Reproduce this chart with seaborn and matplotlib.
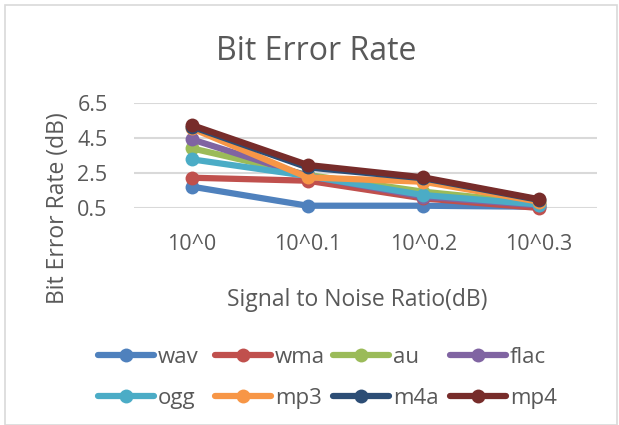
import matplotlib
matplotlib.use("Agg")
import matplotlib.pyplot as plt
import seaborn as sns
import pandas as pd
from matplotlib.patches import Rectangle
from matplotlib.lines import Line2D

categories = ["10^0", "10^0.1", "10^0.2", "10^0.3"]
wav = [1.72, 0.63, 0.63, 0.57]
wma = [2.23, 2.06, 1.05, 0.50]
au = [3.91, 2.39, 1.43, 0.77]
flac = [4.42, 2.33, 1.15, 0.65]
ogg = [3.28, 2.33, 1.24, 0.70]
mp3 = [5.05, 2.25, 2.00, 0.86]
m4a = [5.15, 2.82, 2.20, 0.96]
mp4 = [5.24, 2.96, 2.25, 1.00]
series_names = ["wav", "wma", "au", "flac", "ogg", "mp3", "m4a", "mp4"]
series_values = [wav, wma, au, flac, ogg, mp3, m4a, mp4]
colors = ["#4F81BD", "#C0504D", "#9BBB59", "#8064A2", "#4BACC6", "#F79646", "#2C4D75", "#772C2A"]
yticks = [0.5, 2.5, 4.5, 6.5]

rows = []
for name, vals in zip(series_names, series_values):
    for i, (c, v) in enumerate(zip(categories, vals)):
        rows.append({"snr": c, "pos": i, "ber": v, "fmt": name})
df = pd.DataFrame(rows)

sns.set_theme(style="white")
plt.rcParams["font.family"] = ["Open Sans", "DejaVu Sans"]
text_color = "#595959"

fig = plt.figure(figsize=(6.19, 4.25), dpi=100)
ax = fig.add_axes([134 / 619, 1 - 208 / 425, (597 - 134) / 619, (208 - 103) / 425])

palette = dict(zip(series_names, colors))
sns.lineplot(data=df, x="pos", y="ber", hue="fmt", hue_order=series_names,
             palette=palette, marker="o", markersize=10, linewidth=4.5,
             markeredgewidth=0, ax=ax, legend=False, sort=False)

ax.set_xlim(-0.5, 3.5)
ax.set_ylim(0.5, 6.5)
ax.set_xticks(range(len(categories)))
ax.set_xticklabels(categories)
ax.set_yticks(yticks)
ax.set_yticklabels([f"{t:.1f}" for t in yticks])
ax.yaxis.grid(True, color="#D9D9D9", linewidth=1.5)
ax.set_axisbelow(True)
for s in ax.spines.values():
    s.set_visible(False)
ax.tick_params(axis="x", length=0, pad=19, labelsize=15.5, labelcolor=text_color)
ax.tick_params(axis="y", length=0, pad=19, labelsize=15.5, labelcolor=text_color)
for ln in ax.lines:
    ln.set_clip_on(False)

ax.set_xlabel("")
ax.set_ylabel("")
fig.text(316 / 619, 1 - 51 / 425, "Bit Error Rate", ha="center", va="center",
         fontsize=23, color=text_color)
fig.text(58 / 619, 1 - 208 / 425, "Bit Error Rate (dB)", ha="center", va="center",
         rotation=90, fontsize=16.5, color=text_color)
fig.text(357 / 619, 1 - 300 / 425, "Signal to Noise Ratio(dB)", ha="center", va="center",
         fontsize=16.5, color=text_color)

# legend: one legend per column, row-major ordering as in the reference
col_x = [98, 215, 333, 450]
for j in range(4):
    idx = [j, j + 4]
    hs = [Line2D([0], [0], color=colors[k], lw=4.5, marker="o", markersize=10,
                 markeredgewidth=0) for k in idx]
    leg = fig.legend(hs, [series_names[k] for k in idx], loc="upper left",
                     bbox_to_anchor=(col_x[j] / 619, 1 - 347 / 425), frameon=False,
                     fontsize=16, handlelength=2.5, handletextpad=0.2,
                     labelspacing=0.88, borderpad=0, borderaxespad=0)
    for t in leg.get_texts():
        t.set_color(text_color)

fig.patches.append(Rectangle((5 / 619, 0), 612 / 619, 1 - 5 / 425, transform=fig.transFigure,
                             fill=False, edgecolor="#D9D9D9", linewidth=1.2))

fig.savefig("out.png", dpi=100)
